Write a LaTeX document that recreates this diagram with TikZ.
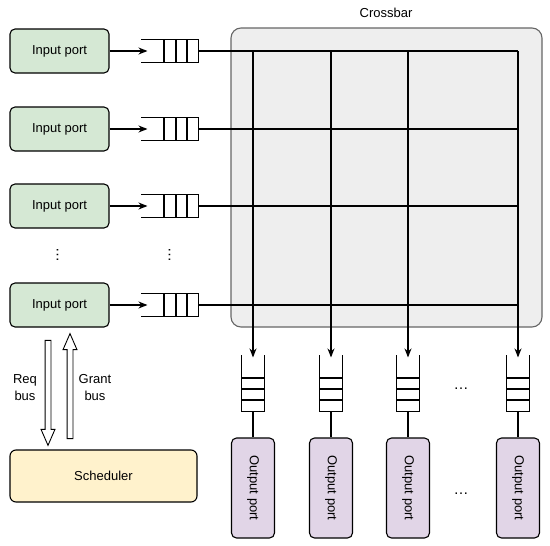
\documentclass[tikz,border=0pt]{standalone}
\usepackage{fontspec}
\setmainfont{Liberation Sans}
\usetikzlibrary{calc,shapes.arrows,arrows.meta}
\definecolor{inportfill}{HTML}{D5E8D4}
\definecolor{outportfill}{HTML}{E1D5E7}
\definecolor{schedfill}{HTML}{FFF2CC}
\definecolor{xbarfill}{HTML}{EEEEEE}
\definecolor{xbardraw}{HTML}{666666}

\begin{document}
\begin{tikzpicture}[x=1pt,y=-1pt,line width=1.1pt,font=\fontsize{13}{17}\selectfont,
  inport/.style={draw,fill=inportfill,rounded corners=5pt,minimum width=99pt,minimum height=44pt},
  outport/.style={draw,fill=outportfill,rounded corners=5pt,minimum width=100pt,minimum height=43pt,rotate=-90},
  qbox/.style={inner sep=0pt,minimum width=56pt,minimum height=22pt},
  oqbox/.style={inner sep=0pt,minimum width=22pt,minimum height=55pt},
  bus/.style={single arrow,draw,fill=white,line width=0.9pt,inner sep=2.5pt,
    single arrow head extend=4pt,single arrow tip angle=47,minimum height=105pt},
  dotsnode/.style={font=\fontsize{15}{17}\selectfont},
  >={Stealth[length=9pt,width=7pt]}]
\useasboundingbox (0,0) rectangle (550,546);

\node[draw=xbardraw,fill=xbarfill,rounded corners=10pt,minimum width=311pt,minimum height=299pt] (xbar) at (386.5,177.5) {};
\node (xlabel) at (386,13) {Crossbar};

\foreach \n/\y in {1/51,2/129,3/206,4/305}{
  \node[inport] (in\n) at (59.5,\y) {Input port};
  \node[qbox] (iq\n) at (170,\y) {};
  \coordinate (row\n) at (518,\y);
  \draw (iq\n.north west) -- (iq\n.north east) -- (iq\n.south east) -- (iq\n.south west);
  \foreach \c in {164,176,187} \draw (\c,\y-11) -- (\c,\y+11);
  \draw[->] (in\n) -- ([xshift=6pt]iq\n.west);
  \draw (iq\n.east) -- (row\n);
}

\foreach \n/\x in {1/253,2/331,3/408,4/518}{
  \coordinate (col\n) at (\x,51);
  \node[oqbox] (oq\n) at (\x,383.5) {};
  \node[outport] (op\n) at (\x,488) {Output port};
  \draw (oq\n.north west) -- (oq\n.south west) -- (oq\n.south east) -- (oq\n.north east);
  \foreach \r in {378,389,400} \draw (\x-11,\r) -- (\x+11,\r);
  \draw[->] (col\n) -- ([yshift=-2pt]oq\n.north);
  \draw (oq\n.south) -- (op\n);
}

\node[dotsnode] (hdots1) at (461,388.5) {\dots};
\node[dotsnode] (hdots2) at (461,493.5) {\dots};
\node[dotsnode,rotate=90] (vdots1) at (57.5,255) {\dots};
\node[dotsnode,rotate=90] (vdots2) at (169.5,255) {\dots};

\node[draw,fill=schedfill,rounded corners=6pt,minimum width=187pt,minimum height=52pt] (sched) at (103.5,476) {Scheduler};
\node[bus,rotate=-90] (reqbus) at (48,389.5) {};
\node[bus,rotate=90] (grantbus) at (70,389.5) {};
\node[align=center] (reqlabel) at (25,388) {Req\\bus};
\node[align=center] (grantlabel) at (95,388) {Grant\\bus};
\end{tikzpicture}
\end{document}
